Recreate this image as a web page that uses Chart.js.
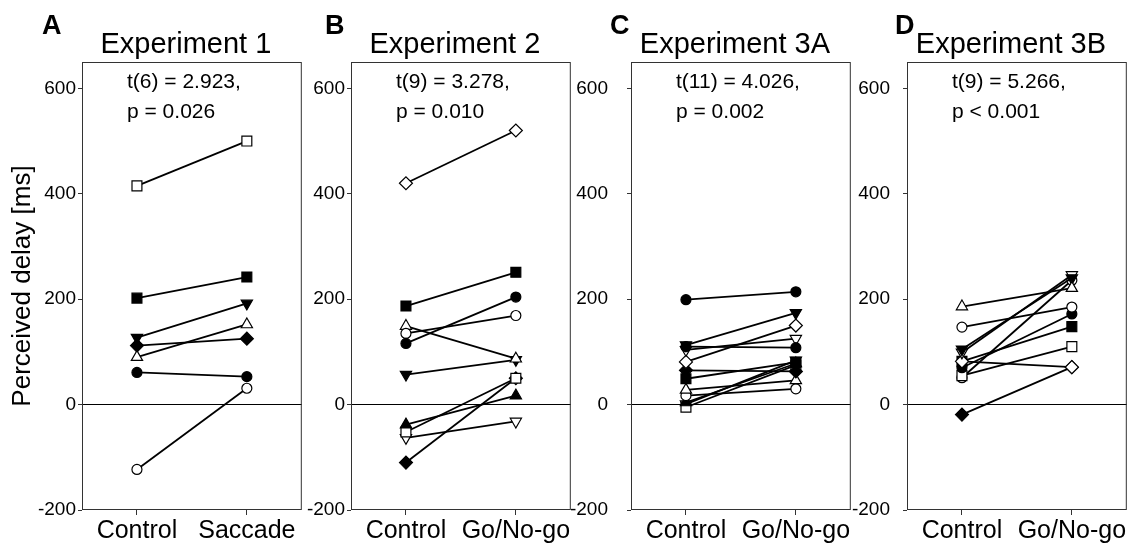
<!DOCTYPE html>
<html>
<head>
<meta charset="utf-8">
<script src="https://cdn.jsdelivr.net/npm/chart.js@4.4.1/dist/chart.umd.min.js"></script>
<style>
  body { margin: 0; background: #fff; }
  #wrap { position: relative; width: 1137px; height: 545px; overflow: hidden; }
  canvas { position: absolute; top: 0; }
</style>
</head>
<body>
<div id="wrap">
  <canvas id="chartA"></canvas>
  <canvas id="chartB"></canvas>
  <canvas id="chartC"></canvas>
  <canvas id="chartD"></canvas>
</div>
<script>
const FONT = "'Liberation Sans', Arial, sans-serif";
const yTicks = [-200, 0, 200, 400, 600];

const catsSaccade = ['Control', 'Saccade'];
const catsGoNoGo = ['Control', 'Go/No-go'];

// Experiment 1 (7 participants)
const exp1Control = [415, 202, 127, 90, 112, 61, -123];
const exp1Saccade = [500, 242, 192, 152, 125, 53, 31];
const exp1Markers = ['sq-o', 'sq-f', 'dtri-f', 'tri-o', 'dia-f', 'circ-f', 'circ-o'];

// Experiment 2 (10 participants)
const exp2Control = [420, 187, 116, 135, 149, 57, -38, -52, -63, -110];
const exp2GoNoGo = [520, 251, 204, 169, 87, 85, 17, 50, -32, 50];
const exp2Markers = ['dia-o', 'sq-f', 'circ-f', 'circ-o', 'tri-o', 'dtri-f', 'tri-f', 'sq-o', 'dtri-o', 'dia-f'];

// Experiment 3A (12 participants)
const exp3aControl = [199, 113, 110, 104, 81, 65, 49, 28, 17, 4, -5, 1];
const exp3aGoNoGo = [214, 174, 108, 125, 150, 63, 80, 46, 30, 78, 75, 84];
const exp3aMarkers = ['circ-f', 'dtri-f', 'circ-f', 'dtri-o', 'dia-o', 'dia-f', 'sq-f', 'tri-o', 'circ-o', 'tri-f', 'sq-o', 'dtri-o'];

// Experiment 3B (10 participants)
const exp3bControl = [186, 147, 105, 99, 82, 82, 70, 55, 51, -19];
const exp3bGoNoGo = [221, 185, 240, 246, 71, 148, 172, 110, 236, 71];
const exp3bMarkers = ['tri-o', 'circ-o', 'dtri-f', 'dtri-o', 'dia-o', 'sq-f', 'circ-f', 'sq-o', 'circ-o', 'dia-f'];

const titles = ['Experiment 1', 'Experiment 2', 'Experiment 3A', 'Experiment 3B'];
const letters = ['A', 'B', 'C', 'D'];
const stats = [
  ['t(6) = 2.923,', 'p = 0.026'],
  ['t(9) = 3.278,', 'p = 0.010'],
  ['t(11) = 4.026,', 'p = 0.002'],
  ['t(9) = 5.266,', 'p < 0.001']
];

function markerStyle(m) {
  const [shape, fill] = m.split('-');
  const shapes = {
    sq: ['rect', 0, 7],
    circ: ['circle', 0, 5],
    tri: ['triangle', 0, 6.5],
    dtri: ['triangle', 180, 6.5],
    dia: ['rectRot', 0, 6.5]
  };
  const s = shapes[shape];
  return {
    pointStyle: s[0],
    pointRotation: s[1],
    pointRadius: s[2],
    pointHoverRadius: s[2],
    pointBackgroundColor: fill === 'f' ? '#000' : '#fff',
    pointBorderColor: '#000',
    pointBorderWidth: 1.2
  };
}

// frame + panel letter, title and stats
const panelText = {
  id: 'panelText',
  beforeDatasetsDraw(chart) {
    const {ctx, chartArea: a} = chart;
    ctx.save();
    ctx.strokeStyle = '#333';
    ctx.lineWidth = 1;
    ctx.strokeRect(a.left + 0.5, a.top + 0.5, a.right - a.left - 1, a.bottom - a.top - 1);
    ctx.restore();
  },
  afterDraw(chart, args, o) {
    const {ctx, chartArea: a} = chart;
    ctx.save();
    ctx.fillStyle = '#000';
    ctx.textBaseline = 'alphabetic';
    ctx.textAlign = 'left';
    ctx.font = 'bold 27px ' + FONT;
    ctx.fillText(o.letter, a.left + o.letterDx, 34);
    ctx.textAlign = 'center';
    ctx.font = '29px ' + FONT;
    ctx.fillText(o.title, (a.left + a.right) / 2 - 6, 53);
    ctx.textAlign = 'left';
    ctx.font = '21px ' + FONT;
    ctx.fillText(o.stats[0], a.left + 45, 88);
    ctx.fillText(o.stats[1], a.left + 45, 118);
    ctx.restore();
  }
};

function makePanel(id, boxLeft, axisW, labelPad, letterDx, idx, cats, control, other, markers, showYTitle) {
  const boxW = 224;
  const canvas = document.getElementById(id);
  canvas.width = axisW + boxW + 4;
  canvas.height = 545;
  canvas.style.left = (boxLeft - axisW) + 'px';

  const datasets = control.map((c, i) => Object.assign({
    data: [c, other[i]],
    borderColor: '#000',
    borderWidth: 1.8,
    tension: 0
  }, markerStyle(markers[i])));

  new Chart(canvas.getContext('2d'), {
    type: 'line',
    data: { labels: cats, datasets: datasets },
    options: {
      responsive: false,
      animation: false,
      layout: { padding: { top: 62, right: 4, bottom: 0, left: 0 } },
      plugins: {
        legend: { display: false },
        tooltip: { enabled: false },
        panelText: { letter: letters[idx], letterDx: letterDx, title: titles[idx], stats: stats[idx] }
      },
      scales: {
        x: {
          type: 'category',
          offset: true,
          border: { display: false },
          grid: { drawOnChartArea: false, drawTicks: true, tickLength: 5, color: '#333' },
          ticks: { color: '#000', font: { size: 25, family: FONT }, padding: 1, maxRotation: 0, autoSkip: false },
          afterFit: s => { s.height = 35; }
        },
        y: {
          min: -200,
          max: 650,
          border: { display: false },
          afterBuildTicks: s => { s.ticks = yTicks.map(v => ({ value: v })); },
          grid: {
            color: c => (c.tick && c.tick.value === 0) ? '#000' : 'rgba(0,0,0,0)',
            tickColor: '#333',
            tickLength: 4,
            lineWidth: 1
          },
          ticks: { color: '#000', font: { size: 19, family: FONT }, padding: labelPad },
          title: {
            display: showYTitle,
            text: 'Perceived delay [ms]',
            color: '#000',
            font: { size: 26, family: FONT },
            padding: { top: 7, bottom: 0 }
          },
          afterFit: s => { s.width = axisW; }
        }
      }
    },
    plugins: [panelText]
  });
}

makePanel('chartA', 82, 82, 2, -40, 0, catsSaccade, exp1Control, exp1Saccade, exp1Markers, true);
makePanel('chartB', 351, 50, 2, -26, 1, catsGoNoGo, exp2Control, exp2GoNoGo, exp2Markers, false);
makePanel('chartC', 631, 60, 19, -21, 2, catsGoNoGo, exp3aControl, exp3aGoNoGo, exp3aMarkers, false);
makePanel('chartD', 907, 55, 13, -12, 3, catsGoNoGo, exp3bControl, exp3bGoNoGo, exp3bMarkers, false);
</script>
</body>
</html>
